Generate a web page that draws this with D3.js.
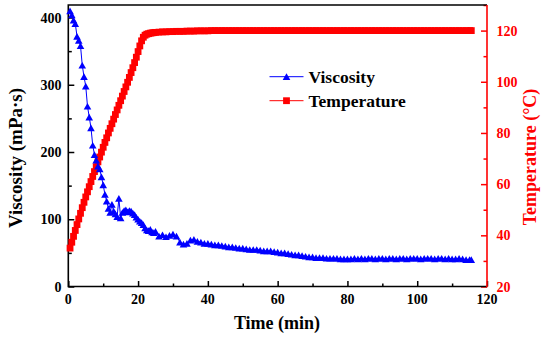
<!DOCTYPE html>
<html>
<head>
<meta charset="utf-8">
<script src="https://cdn.jsdelivr.net/npm/d3@7"></script>
<style>
	body { margin:0; background:#fff; }
	text { font-family:"Liberation Serif","Times New Roman",serif; font-weight:bold; }
</style>
</head>
<body>
<div id="plot"></div>
<script>
// time in minutes (0.5 min sampling during heat-up, 1 min after)
var timeMin = [0.5,1,1.5,2,2.5,3,3.5,4,4.5,5,
	5.5,6,6.5,7,7.5,8,8.5,9,9.5,10,
	10.5,11,11.5,12,12.5,13,13.5,14,14.5,15,
	15.5,16,16.5,17,17.5,18,18.5,19,19.5,20,
	20.5,21,21.5,22,22.5,23,23.5,24,24.5,25,
	26,27,28,29,30,31,32,33,34,35,
	36,37,38,39,40,41,42,43,44,45,
	46,47,48,49,50,51,52,53,54,55,
	56,57,58,59,60,61,62,63,64,65,
	66,67,68,69,70,71,72,73,74,75,
	76,77,78,79,80,81,82,83,84,85,
	86,87,88,89,90,91,92,93,94,95,
	96,97,98,99,100,101,102,103,104,105,
	106,107,108,109,110,111,112,113,114,115,115.5];

// viscosity, mPa·s
var viscosity = [410,404,396,391,372,366,358,329,312,298,
	268,252,236,210,196,188,179,175,163,151,
	137,127,116,110,122,112,108,104,131,102,
	110,113,114,111,113,112,109,107,103,100,
	97,95,92,87,84,83,85,81,80,82,
	75,77,74,76,78,75,66,63,64,69,
	70,67,66,64,64,63,62,62,61,60,
	59,59,58,57,57,56,55,55,55,54,
	53,53,53,52,51,50,50,49,48,47,
	47,46,45,44,44,43,43,43,42,42,
	42,42,41,41,41,41,42,41,42,41,
	42,42,41,42,42,41,42,42,41,42,
	42,41,42,42,42,41,42,42,42,41,
	42,42,41,42,41,41,42,41,40,40,40];

// temperature, °C
var temperature = [35,37.3,39.6,41.9,44.2,46.4,48.6,50.8,52.9,55.0,
	57.0,59.0,61.0,63.0,64.9,66.8,68.7,70.6,72.5,74.4,
	76.3,78.1,80.0,81.8,83.6,85.4,87.2,89.0,90.8,92.6,
	94.4,96.2,98.0,99.8,101.7,103.6,105.5,107.5,109.6,111.8,
	114.0,116.0,117.4,118.2,118.6,118.8,119.0,119.1,119.2,119.3,
	119.4,119.5,119.5,119.6,119.6,119.7,119.7,119.7,119.8,119.8,
	119.8,119.9,119.9,119.9,119.9,120,120,120,120,120,
	120,120,120,120,120,120,120,120,120,120,
	120,120,120,120,120,120,120,120,120,120,
	120,120,120,120,120,120,120,120,120,120,
	120,120,120,120,120,120,120,120,120,120,
	120,120,120,120,120,120,120,120,120,120,
	120,120,120,120,120,120,120,120,120,120,
	120,120,120,120,120,120,120,120,120,120,120];

var xTicks = [0,20,40,60,80,100,120];
var viscTicks = [0,100,200,300,400];
var tempTicks = [20,40,60,80,100,120];
var seriesNames = ['Viscosity','Temperature'];

var BLUE = '#0000ff', RED = '#ff0000';

var W = 550, H = 340;
var m = {left:68.3, right:487, top:5, bottom:286.5};

var svg = d3.select('#plot').append('svg')
	.attr('width', W)
	.attr('height', H);

var x = d3.scaleLinear().domain([0, 120]).range([m.left, m.right]);
var yV = d3.scaleLinear().domain([0, 418.6]).range([m.bottom, m.top]);
var yT = d3.scaleLinear().domain([20, 130]).range([m.bottom, m.top]);

// axes (ticks point inward, like Origin)
var xAxis = svg.append('g')
	.attr('transform', 'translate(0,' + m.bottom + ')')
	.call(d3.axisBottom(x).tickValues(d3.range(0, 121, 10)).tickSize(-5).tickFormat(''));
xAxis.selectAll('.tick line').attr('y2', function(d){ return d % 20 === 0 ? -5.5 : -3; });

var yAxisL = svg.append('g')
	.attr('transform', 'translate(' + m.left + ',0)')
	.call(d3.axisLeft(yV).tickValues(d3.range(0, 401, 50)).tickSize(-5).tickFormat(''));
yAxisL.selectAll('.tick line').attr('x2', function(d){ return d % 100 === 0 ? 6 : 3.5; });

var yAxisR = svg.append('g')
	.attr('transform', 'translate(' + m.right + ',0)')
	.call(d3.axisRight(yT).tickValues(d3.range(20, 131, 10)).tickSize(-5).tickFormat(''));
yAxisR.selectAll('.tick line').attr('x2', function(d){ return d % 20 === 0 ? -6 : -3.5; });

[xAxis, yAxisL, yAxisR].forEach(function(a){
	a.select('.domain').remove();
	a.selectAll('.tick line').attr('stroke-width', 1.5);
});
yAxisL.selectAll('.tick line').attr('stroke', '#000');
xAxis.selectAll('.tick line').attr('stroke', '#000');
yAxisR.selectAll('.tick line').attr('stroke', RED);

// frame
svg.append('path')
	.attr('d', 'M' + m.right + ',' + m.top + 'H' + m.left + 'V' + m.bottom + 'H' + m.right)
	.attr('fill', 'none').attr('stroke', '#000').attr('stroke-width', 1.6);
svg.append('line')
	.attr('x1', m.right).attr('x2', m.right).attr('y1', m.top).attr('y2', m.bottom + 0.8)
	.attr('stroke', RED).attr('stroke-width', 1.6);

// tick labels
svg.selectAll('.xlab').data(xTicks).enter().append('text')
	.attr('class', 'xlab')
	.attr('x', function(d){ return x(d); })
	.attr('y', 304)
	.attr('text-anchor', 'middle')
	.style('font-size', '14px')
	.text(function(d){ return d; });

svg.selectAll('.vlab').data(viscTicks).enter().append('text')
	.attr('class', 'vlab')
	.attr('x', 61.5)
	.attr('y', function(d){ return yV(d) + 5; })
	.attr('text-anchor', 'end')
	.style('font-size', '14px')
	.text(function(d){ return d; });

svg.selectAll('.tlab').data(tempTicks).enter().append('text')
	.attr('class', 'tlab')
	.attr('x', 496.5)
	.attr('y', function(d){ return yT(d) + 5; })
	.attr('fill', RED)
	.style('font-size', '14px')
	.text(function(d){ return d; });

// axis titles
svg.append('text')
	.attr('x', 277).attr('y', 329)
	.attr('text-anchor', 'middle')
	.style('font-size', '18px')
	.text('Time (min)');

svg.append('text')
	.attr('transform', 'translate(22,158) rotate(-90)')
	.attr('text-anchor', 'middle')
	.style('font-size', '19px')
	.text('Viscosity (mPa\u00b7s)');

svg.append('text')
	.attr('transform', 'translate(536,157) rotate(-90)')
	.attr('text-anchor', 'middle')
	.attr('fill', RED)
	.style('font-size', '18px')
	.text('Temperature (\u00b0C)');

// data
var visc = timeMin.map(function(t, i){ return {t:t, v:viscosity[i]}; });
var temp = timeMin.map(function(t, i){ return {t:t, v:temperature[i]}; });

function triPath(cx, cy, s){
	var h = s * 0.88;
	return 'M' + cx + ',' + (cy - h/2) + 'L' + (cx + s/2) + ',' + (cy + h/2) + 'L' + (cx - s/2) + ',' + (cy + h/2) + 'Z';
}

svg.append('path')
	.datum(temp)
	.attr('fill', 'none').attr('stroke', RED).attr('stroke-width', 1)
	.attr('d', d3.line().x(function(d){ return x(d.t); }).y(function(d){ return yT(d.v); }));

svg.selectAll('.sq').data(temp).enter().append('rect')
	.attr('class', 'sq')
	.attr('x', function(d){ return x(d.t) - 3.4; })
	.attr('y', function(d){ return yT(d.v) - 3.4; })
	.attr('width', 6.8).attr('height', 6.8)
	.attr('fill', RED);

svg.append('path')
	.datum(visc)
	.attr('fill', 'none').attr('stroke', BLUE).attr('stroke-width', 1)
	.attr('d', d3.line().x(function(d){ return x(d.t); }).y(function(d){ return yV(d.v); }));

svg.selectAll('.tri').data(visc).enter().append('path')
	.attr('class', 'tri')
	.attr('d', function(d){ return triPath(x(d.t), yV(d.v), 7.6); })
	.attr('fill', BLUE);

// legend
var legend = svg.append('g').attr('class', 'legend');
var legY = [76.7, 100.7];
seriesNames.forEach(function(name, i){
	var c = i === 0 ? BLUE : RED;
	legend.append('line')
		.attr('x1', 269.5).attr('x2', 303.5)
		.attr('y1', legY[i]).attr('y2', legY[i])
		.attr('stroke', c).attr('stroke-width', 1);
	if (i === 0) {
		legend.append('path').attr('d', triPath(286.5, legY[i], 7.6)).attr('fill', c);
	} else {
		legend.append('rect')
			.attr('x', 286.5 - 3.4).attr('y', legY[i] - 3.4)
			.attr('width', 6.8).attr('height', 6.8).attr('fill', c);
	}
	legend.append('text')
		.attr('x', 308.5).attr('y', legY[i] + 6.5)
		.style('font-size', '17.5px')
		.text(name);
});
</script>
</body>
</html>
